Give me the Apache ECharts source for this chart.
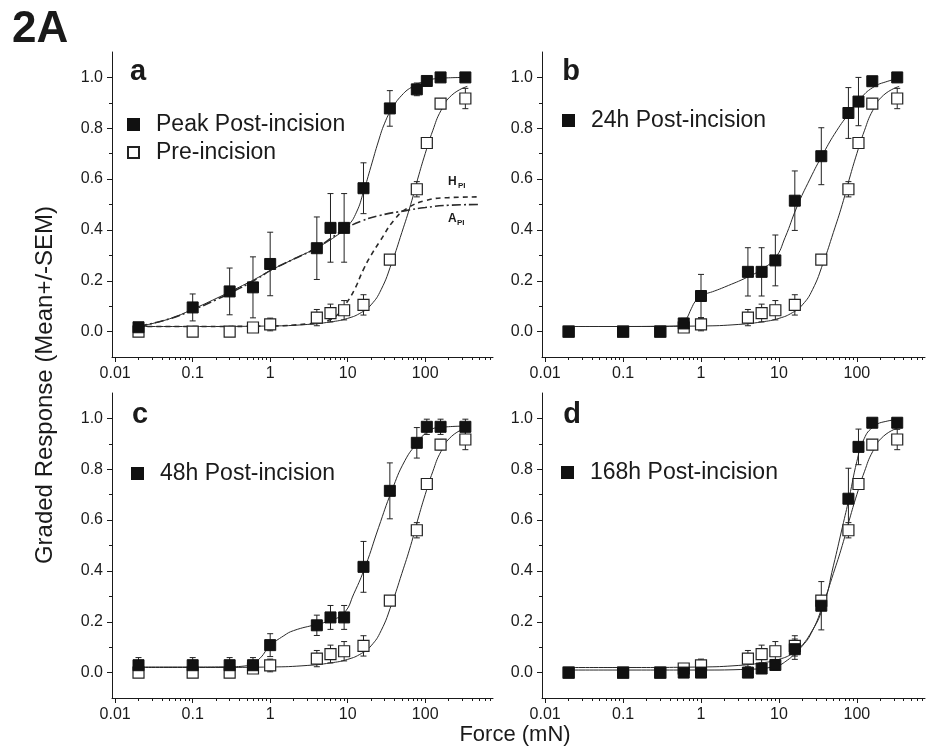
<!DOCTYPE html>
<html>
<head>
<meta charset="utf-8">
<script src="https://cdn.jsdelivr.net/npm/echarts@6/dist/echarts.min.js"></script>
<style>
html, body { margin: 0; padding: 0; background: #fff; }
#main { width: 939px; height: 747px; }
</style>
</head>
<body>
<div id="main"></div>
<script>
// von Frey forces (mN) used for every group
var forces = [0.02, 0.1, 0.3, 0.6, 1, 4, 6, 9, 16, 35, 78, 105, 158, 330];

// pre-incision (open squares, same in all panels)
var preMean = [0.0, 0.0, 0.0, 0.016, 0.028, 0.055, 0.073, 0.084, 0.105, 0.283, 0.56, 0.742, 0.897, 0.917];
var preSem  = [0, 0, 0, 0.01, 0.025, 0.032, 0.035, 0.038, 0.04, 0, 0.03, 0.012, 0.02, 0.04];

// post-incision groups (filled squares)
var peakMean = [0.017, 0.095, 0.158, 0.174, 0.266, 0.328, 0.408, 0.408, 0.564, 0.878, 0.953, 0.986, 1.0, 1.0];
var peakSem  = [0, 0.053, 0.092, 0.12, 0.125, 0.123, 0.135, 0.135, 0.1, 0.07, 0.025, 0, 0, 0];
var h24Mean  = [0, 0, 0, 0.032, 0.14, 0.235, 0.235, 0.28, 0.515, 0.69, 0.86, 0.905, 0.985, 1.0];
var h24Sem   = [0, 0, 0, 0.02, 0.085, 0.095, 0.095, 0.1, 0.117, 0.112, 0.1, 0.095, 0, 0];
var h48Mean  = [0.029, 0.029, 0.029, 0.029, 0.108, 0.186, 0.217, 0.217, 0.416, 0.715, 0.904, 0.967, 0.967, 0.967];
var h48Sem   = [0.03, 0.03, 0.03, 0.03, 0.045, 0.04, 0.047, 0.047, 0.1, 0.11, 0.06, 0.03, 0.03, 0.03];
var h168Mean = [0, 0, 0, 0, 0, 0, 0.016, 0.03, 0.092, 0.263, 0.684, 0.888, 0.983, 0.983];
var h168Sem  = [0, 0, 0, 0, 0, 0, 0.01, 0.02, 0.04, 0.095, 0.12, 0.07, 0, 0];

// fitted curves
var preFitX = [0.02, 0.1, 1, 3, 6, 10, 15, 20, 27, 37, 50, 65, 80, 100, 125, 160, 220, 350];
var preFitY = [0.02, 0.02, 0.022, 0.028, 0.038, 0.052, 0.075, 0.105, 0.165, 0.27, 0.39, 0.5, 0.6, 0.7, 0.79, 0.87, 0.93, 0.965];
var peakFitX = [0.02, 0.05, 0.1, 0.2, 0.4, 0.7, 1, 2, 4, 7, 10, 13, 16, 20, 25, 30, 37, 50, 70, 100, 160, 350];
var peakFitY = [0.02, 0.05, 0.088, 0.13, 0.175, 0.213, 0.24, 0.285, 0.33, 0.375, 0.415, 0.47, 0.55, 0.65, 0.75, 0.82, 0.875, 0.93, 0.965, 0.985, 0.997, 1.0];
var aPiX = [0.02, 0.05, 0.1, 0.2, 0.4, 0.7, 1, 2, 4, 7, 10, 15, 26, 56, 100, 200, 500];
var aPiY = [0.02, 0.05, 0.085, 0.125, 0.17, 0.21, 0.24, 0.285, 0.33, 0.38, 0.41, 0.435, 0.457, 0.476, 0.488, 0.497, 0.5];
var hPiX = [0.02, 0.1, 1, 3, 5, 7, 9, 12, 16, 20, 26, 40, 58, 100, 200, 500];
var hPiY = [0.02, 0.02, 0.022, 0.03, 0.04, 0.06, 0.1, 0.16, 0.245, 0.3, 0.355, 0.44, 0.484, 0.515, 0.527, 0.53];
var h24FitX = [0.02, 0.1, 0.3, 0.55, 0.65, 0.75, 0.85, 1, 1.5, 2, 4, 6, 9, 12, 17, 25, 37, 55, 80, 110, 160, 250, 350];
var h24FitY = [0.02, 0.02, 0.021, 0.023, 0.05, 0.09, 0.12, 0.14, 0.16, 0.175, 0.215, 0.245, 0.29, 0.37, 0.49, 0.6, 0.7, 0.79, 0.86, 0.915, 0.96, 0.985, 0.995];
var h48FitX = [0.02, 0.1, 0.3, 0.5, 0.7, 1, 1.5, 2, 4, 6, 9, 12, 17, 25, 37, 55, 80, 110, 160, 350];
var h48FitY = [0.022, 0.022, 0.023, 0.027, 0.05, 0.105, 0.145, 0.165, 0.19, 0.205, 0.235, 0.31, 0.42, 0.57, 0.715, 0.835, 0.905, 0.95, 0.965, 0.97];
var h168FitX = [0.02, 0.1, 1, 4, 9, 13, 17, 25, 37, 50, 65, 80, 100, 120, 160, 250, 350];
var h168FitY = [0.01, 0.01, 0.01, 0.013, 0.025, 0.05, 0.085, 0.15, 0.26, 0.42, 0.57, 0.69, 0.83, 0.91, 0.965, 0.99, 0.995];

// axes
var xTicks = [0.01, 0.1, 1, 10, 100];
var xTickLabels = ['0.01', '0.1', '1', '10', '100'];
var xMinorTicks = [];
[0.01, 0.1, 1, 10, 100].forEach(function (d) {
    for (var k = 2; k <= 9; k++) {
        if (d * k <= 700) xMinorTicks.push(+(d * k).toPrecision(3));
    }
});
var yTicks = [0, 0.2, 0.4, 0.6, 0.8, 1.0];
var yMinorTicks = [0.1, 0.3, 0.5, 0.7, 0.9];

var font = 'Liberation Sans, Arial, Helvetica, sans-serif';
var ink = '#1a1a1a';

var grids = [
    { left: 112, top: 52, width: 381, height: 305 },
    { left: 542, top: 52, width: 383, height: 305 },
    { left: 112, top: 393, width: 381, height: 305 },
    { left: 542, top: 393, width: 383, height: 305 }
];

function pairs(xs, ys) {
    return xs.map(function (x, i) { return [x, ys[i]]; });
}
function triples(xs, ys, es) {
    return xs.map(function (x, i) { return [x, ys[i], es[i]]; });
}

function renderErrorBar(params, api) {
    var x = api.value(0), y = api.value(1), e = api.value(2);
    if (!e) return null;
    var hi = api.coord([x, y + e]);
    var lo = api.coord([x, y - e]);
    var w = 3;
    var st = { stroke: '#222', lineWidth: 1 };
    return {
        type: 'group',
        children: [
            { type: 'line', shape: { x1: hi[0], y1: hi[1], x2: lo[0], y2: lo[1] }, style: st },
            { type: 'line', shape: { x1: hi[0] - w, y1: hi[1], x2: hi[0] + w, y2: hi[1] }, style: st },
            { type: 'line', shape: { x1: lo[0] - w, y1: lo[1], x2: lo[0] + w, y2: lo[1] }, style: st }
        ]
    };
}

var xAxes = [], yAxes = [], series = [];

grids.forEach(function (g, i) {
    xAxes.push({
        type: 'log', gridIndex: i, min: 0.0091, max: 750,
        axisLine: { onZero: false, lineStyle: { color: ink, width: 1 } },
        axisTick: { customValues: xTicks, length: 5, lineStyle: { color: ink } },
        axisLabel: {
            customValues: xTicks, fontSize: 16, margin: 9, color: ink, fontFamily: font,
            formatter: function (v) {
                var best = 0;
                xTicks.forEach(function (t, k) {
                    if (Math.abs(Math.log10(t) - Math.log10(v)) < Math.abs(Math.log10(xTicks[best]) - Math.log10(v))) best = k;
                });
                return xTickLabels[best];
            }
        },
        splitLine: { show: false }
    });
    xAxes.push({
        type: 'log', gridIndex: i, min: 0.0091, max: 750, position: 'bottom',
        axisLine: { show: false, onZero: false },
        axisTick: { customValues: xMinorTicks, length: 3, lineStyle: { color: ink } },
        axisLabel: { show: false },
        splitLine: { show: false }
    });
    yAxes.push({
        type: 'value', gridIndex: i, min: -0.1, max: 1.1,
        axisLine: { show: true, onZero: false, lineStyle: { color: ink, width: 1 } },
        axisTick: { show: true, customValues: yTicks, length: 5, lineStyle: { color: ink } },
        axisLabel: {
            customValues: yTicks, fontSize: 16, margin: 9, color: ink, fontFamily: font,
            formatter: function (v) { return v.toFixed(1); }
        },
        splitLine: { show: false }
    });
    yAxes.push({
        type: 'value', gridIndex: i, min: -0.1, max: 1.1, position: 'left',
        axisLine: { show: false, onZero: false },
        axisTick: { show: true, customValues: yMinorTicks, length: 3, lineStyle: { color: ink } },
        axisLabel: { show: false },
        splitLine: { show: false }
    });
});

function errSeries(i, xs, ys, es) {
    return {
        name: 'err' + i, type: 'custom', xAxisIndex: 2 * i, yAxisIndex: 2 * i, z: 1,
        renderItem: renderErrorBar, data: triples(xs, ys, es), silent: true
    };
}
function fitSeries(i, xs, ys, dash) {
    return {
        name: 'fit' + i, type: 'line', xAxisIndex: 2 * i, yAxisIndex: 2 * i, z: 2,
        data: pairs(xs, ys), showSymbol: false, smooth: 0.5,
        lineStyle: { color: '#2a2a2a', width: dash ? 1.6 : 1, type: dash || 'solid' },
        silent: true
    };
}
function dotSeries(i, name, xs, ys, open) {
    return {
        name: name, type: 'scatter', xAxisIndex: 2 * i, yAxisIndex: 2 * i, z: open ? 3 : 4,
        data: pairs(xs, ys), symbol: 'rect', symbolSize: 11,
        itemStyle: open
            ? { color: '#fff', borderColor: '#222', borderWidth: 1.2, opacity: 1 }
            : { color: '#111', borderColor: '#111', borderWidth: 1, opacity: 1 }
    };
}

var groups = [
    { name: 'Peak Post-incision', mean: peakMean, sem: peakSem, fx: peakFitX, fy: peakFitY },
    { name: '24h Post-incision', mean: h24Mean, sem: h24Sem, fx: h24FitX, fy: h24FitY },
    { name: '48h Post-incision', mean: h48Mean, sem: h48Sem, fx: h48FitX, fy: h48FitY },
    { name: '168h Post-incision', mean: h168Mean, sem: h168Sem, fx: h168FitX, fy: h168FitY }
];

groups.forEach(function (gr, i) {
    series.push(errSeries(i, forces, preMean, preSem));
    series.push(errSeries(i, forces, gr.mean, gr.sem));
    series.push(fitSeries(i, preFitX, preFitY));
    if (i === 0) {
        series.push(fitSeries(i, hPiX, hPiY, [5, 4]));
        series.push(fitSeries(i, aPiX, aPiY, [9, 3, 2, 3]));
    }
    series.push(fitSeries(i, gr.fx, gr.fy));
    series.push(dotSeries(i, 'Pre-incision', forces, preMean, true));
    series.push(dotSeries(i, gr.name, forces, gr.mean, false));
});

var legendBase = {
    orient: 'vertical', itemWidth: 11, itemHeight: 11, itemGap: 5, selectedMode: false,
    textStyle: { fontSize: 23, color: ink, fontFamily: font, padding: [0, 0, 0, 12] }
};
var legendPos = [[122, 108], [557, 104], [126, 457], [556, 456]];
var legends = groups.map(function (gr, i) {
    var l = Object.assign({}, legendBase, { left: legendPos[i][0], top: legendPos[i][1] });
    l.data = i === 0 ? [gr.name, 'Pre-incision'] : [gr.name];
    return l;
});

function label(text, x, y, size, align, extra) {
    return Object.assign({
        type: 'text', x: x, y: y, silent: true,
        style: {
            text: text, fontSize: size, fontFamily: font, fill: ink,
            textAlign: align || 'left', textVerticalAlign: 'middle'
        }
    }, extra || {});
}
function bold(el) { el.style.fontWeight = 'bold'; return el; }

var graphics = [
    bold(label('2A', 12, 30, 44, 'left')),
    bold(label('a', 138, 72, 29, 'center')),
    bold(label('b', 571, 72, 29, 'center')),
    bold(label('c', 140, 415, 29, 'center')),
    bold(label('d', 572, 415, 29, 'center')),
    bold(label('H', 448, 182, 12, 'left')),
    bold(label('PI', 458, 186, 8, 'left')),
    bold(label('A', 448, 219, 12, 'left')),
    bold(label('PI', 457, 223, 8, 'left')),
    label('Force (mN)', 515, 735, 22, 'center'),
    label('Graded Response (Mean+/-SEM)', 45, 385, 24, 'center', { rotation: Math.PI / 2 })
];

var chart = echarts.init(document.getElementById('main'));
chart.setOption({
    animation: false,
    backgroundColor: '#fff',
    grid: grids,
    xAxis: xAxes,
    yAxis: yAxes,
    legend: legends,
    graphic: graphics,
    series: series
});
</script>
</body>
</html>
